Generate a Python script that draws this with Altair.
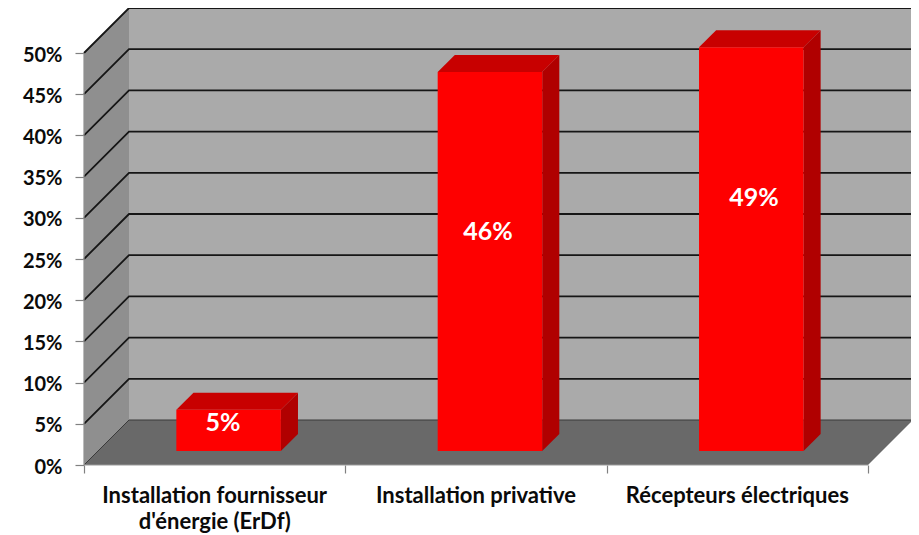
import altair as alt
import pandas as pd

categories = [["Installation fournisseur", "d'énergie (ErDf)"], ["Installation privative"], ["Récepteurs électriques"]]
values = [5, 46, 49]
value_labels = ["5%", "46%", "49%"]
label_heights = [5.1, 28.3, 32.4]
label_slots = [0.532, 1.546, 2.564]
y_ticks = list(range(0, 55, 5))
x_ticks = [0, 1, 2, 3]

# oblique projection of the 3D box, in data units
DEPTH_X = 45 / 261.33
DEPTH_Y = 45 / 8.24
BAR_START, BAR_END = 0.3, 0.7
BAR_FRONT, BAR_BACK = 0.31, 0.69
X_MAX = 3 + DEPTH_X
Y_MAX = 50 + DEPTH_Y

xs = alt.Scale(domain=[0, X_MAX], nice=False, zero=False)
ys = alt.Scale(domain=[0, Y_MAX], nice=False, zero=False)
FONT = "Lato"

x_axis = alt.Axis(
    values=x_ticks, labels=False, domain=False, grid=False, title=None,
    tickSize=8, tickColor="#808080", tickWidth=1.2)
y_axis = alt.Axis(
    values=y_ticks, labelExpr="datum.value + '%'", domain=False, grid=False, title=None,
    tickSize=9, tickColor="#808080", tickWidth=1.2, labelPadding=13, labelOffset=2,
    labelFont=FONT, labelFontWeight="bold", labelFontSize=20, labelColor="#0a0a0a")


def vertical(rows, color):
    return alt.Chart(pd.DataFrame(rows, columns=["g", "x", "y", "y2"])).mark_area(
        color=color, orient="vertical", opacity=1
    ).encode(
        x=alt.X("x:Q", scale=xs, axis=x_axis),
        y=alt.Y("y:Q", scale=ys, axis=y_axis, stack=None),
        y2="y2:Q",
        detail="g:N",
    )


def horizontal(rows, color):
    return alt.Chart(pd.DataFrame(rows, columns=["g", "y", "x", "x2"])).mark_area(
        color=color, orient="horizontal", opacity=1
    ).encode(
        y=alt.Y("y:Q", scale=ys, axis=y_axis),
        x=alt.X("x:Q", scale=xs, axis=x_axis, stack=None),
        x2="x2:Q",
        detail="g:N",
    )


def lines(rows, color, width):
    return alt.Chart(pd.DataFrame(rows, columns=["g", "i", "x", "y"])).mark_line(
        color=color, strokeWidth=width
    ).encode(
        x=alt.X("x:Q", scale=xs, axis=x_axis),
        y=alt.Y("y:Q", scale=ys, axis=y_axis),
        detail="g:N",
        order="i:Q",
    )


back_wall = vertical([["b", DEPTH_X, DEPTH_Y, Y_MAX], ["b", X_MAX, DEPTH_Y, Y_MAX]], "#aaaaaa")
side_wall = vertical([["s", 0, 0, 50], ["s", DEPTH_X, DEPTH_Y, Y_MAX]], "#8f8f8f")

grid_rows = []
for t in y_ticks:
    grid_rows += [[t, 0, 0, t], [t, 1, DEPTH_X, t + DEPTH_Y], [t, 2, X_MAX, t + DEPTH_Y]]
grid = lines([r for r in grid_rows if r[0] > 0], "#161616", 1.8)

floor = horizontal([["f", 0, 0, 3], ["f", DEPTH_Y, DEPTH_X, X_MAX]], "#696969")
floor_edges = lines([["e", 0, 0, 0], ["e", 1, DEPTH_X, DEPTH_Y], ["e", 2, X_MAX, DEPTH_Y]], "#3a3a3a", 1)
frame = lines([["v", 0, 0, 0], ["v", 1, 0, 50]], "#8f8f8f", 1.2)
base = lines([["h", 0, 0, 0], ["h", 1, 3, 0]], "#9a9a9a", 1.2)

front_rows, side_rows, top_rows = [], [], []
for n, v in enumerate(values):
    x0, x1 = n + BAR_START, n + BAR_END
    fx, fy = BAR_FRONT * DEPTH_X, BAR_FRONT * DEPTH_Y
    bx, by = BAR_BACK * DEPTH_X, BAR_BACK * DEPTH_Y
    front_rows += [[n, x0 + fx, fy, v + fy], [n, x1 + fx, fy, v + fy]]
    side_rows += [[n, x1 + fx, fy, v + fy], [n, x1 + bx, by, v + by]]
    top_rows += [[n, v + fy, x0 + fx, x1 + fx], [n, v + by, x0 + bx, x1 + bx]]

bar_side = vertical(side_rows, "#b00000")
bar_top = horizontal(top_rows, "#c80000")
bar_front = vertical(front_rows, "#fe0000")

value_text = alt.Chart(pd.DataFrame({
    "x": label_slots, "y": label_heights, "t": value_labels
})).mark_text(font=FONT, fontWeight="bold", fontSize=25, color="white").encode(
    x=alt.X("x:Q", scale=xs, axis=x_axis),
    y=alt.Y("y:Q", scale=ys, axis=y_axis),
    text="t:N",
)

cat_text = alt.Chart(pd.DataFrame({
    "x": [i + 0.5 for i in range(3)],
    "y": [0, 0, 0],
    "t": ["\n".join(c) for c in categories],
})).mark_text(
    font=FONT, fontWeight="bold", fontSize=22, color="#0a0a0a",
    lineBreak="\n", lineHeight=26, baseline="alphabetic", dy=38,
).encode(
    x=alt.X("x:Q", scale=xs, axis=x_axis),
    y=alt.Y("y:Q", scale=ys, axis=y_axis),
    text="t:N",
)

chart = alt.layer(
    back_wall, side_wall, grid, floor, floor_edges, frame, base,
    bar_side, bar_top, bar_front, value_text, cat_text,
).properties(
    width=829, height=457,
    autosize=alt.AutoSizeParams(type="none"),
    padding={"left": 76, "top": 0, "right": -2, "bottom": 70},
    background="white",
).configure_view(stroke=None)

chart.save("out.html", embed_options={"renderer": "svg", "actions": False})
